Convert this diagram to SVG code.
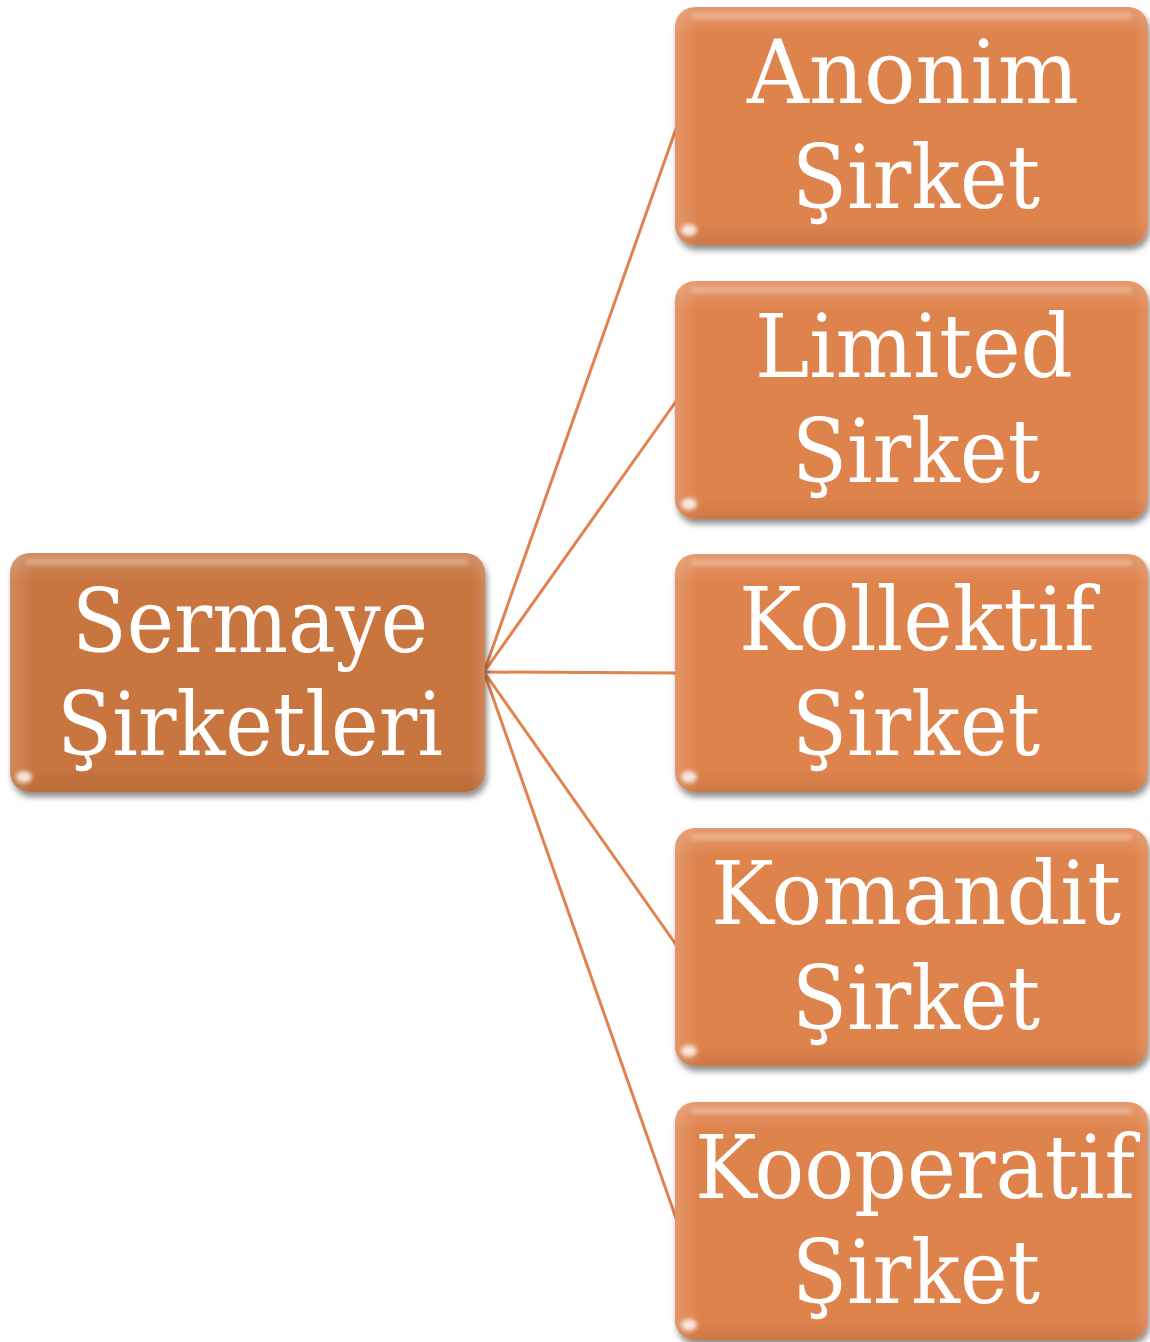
<svg xmlns="http://www.w3.org/2000/svg" width="1150" height="1342" viewBox="0 0 1150 1342">
  <defs>
    <filter id="shadow" x="-5%" y="-5%" width="112%" height="115%">
      <feGaussianBlur in="SourceAlpha" stdDeviation="3"/>
      <feOffset dx="2" dy="5" result="b"/>
      <feComponentTransfer><feFuncA type="linear" slope="0.45"/></feComponentTransfer>
      <feMerge><feMergeNode/><feMergeNode in="SourceGraphic"/></feMerge>
    </filter>
    <filter id="soft" x="-20%" y="-50%" width="140%" height="200%">
      <feGaussianBlur stdDeviation="2"/>
    </filter>
    <linearGradient id="gloss" x1="0" y1="0" x2="0" y2="1">
      <stop offset="0" stop-color="#ffffff" stop-opacity="0.18"/>
      <stop offset="0.12" stop-color="#ffffff" stop-opacity="0"/>
      <stop offset="0.9" stop-color="#000000" stop-opacity="0"/>
      <stop offset="1" stop-color="#000000" stop-opacity="0.08"/>
    </linearGradient>
    <linearGradient id="side" x1="0" y1="0" x2="1" y2="0">
      <stop offset="0" stop-color="#ffffff" stop-opacity="0.15"/>
      <stop offset="0.05" stop-color="#ffffff" stop-opacity="0"/>
      <stop offset="0.97" stop-color="#ffffff" stop-opacity="0"/>
      <stop offset="1" stop-color="#ffffff" stop-opacity="0.12"/>
    </linearGradient>
  </defs>
  <style>
    .root { fill: #C87441; }
    .child { fill: #DF834E; }
    .overlay { fill: url(#gloss); }
    .sideov { fill: url(#side); }
    .hl { fill: #ffffff; opacity: 0.3; filter: url(#soft); }
    .dot { fill: #ffffff; opacity: 0.8; filter: url(#soft); }
    .lbl { font-family: "DejaVu Serif", "Liberation Serif", serif; font-size: 88px; fill: #ffffff; text-anchor: middle; }
    .conn line { stroke: #E0834E; stroke-width: 3; fill: none; }
  </style>
  <rect width="1150" height="1342" fill="#ffffff"/>

  <g id="connectors" class="conn">
    <line x1="484" y1="672" x2="677" y2="126"/>
    <line x1="484" y1="672" x2="677" y2="400"/>
    <line x1="484" y1="672" x2="677" y2="673"/>
    <line x1="484" y1="672" x2="677" y2="946"/>
    <line x1="484" y1="672" x2="677" y2="1221"/>
  </g>

  <g id="node-root">
    <g filter="url(#shadow)">
      <rect class="root" x="10" y="553" width="475" height="239" rx="20"/>
    </g>
    <rect class="overlay" x="10" y="553" width="475" height="239" rx="20"/>
    <rect class="sideov" x="10" y="553" width="475" height="239" rx="20"/>
    <rect class="hl" x="26" y="559" width="443" height="6" rx="3"/>
    <ellipse class="dot" cx="24" cy="777" rx="8" ry="6"/>
    <text class="lbl" x="250" y="652" textLength="356" lengthAdjust="spacingAndGlyphs">Sermaye</text>
    <text class="lbl" x="250" y="755" textLength="386" lengthAdjust="spacingAndGlyphs">Şirketleri</text>
  </g>

  <g id="node-anonim">
    <g filter="url(#shadow)">
      <rect class="child" x="675" y="7" width="473" height="238" rx="20"/>
    </g>
    <rect class="overlay" x="675" y="7" width="473" height="238" rx="20"/>
    <rect class="sideov" x="675" y="7" width="473" height="238" rx="20"/>
    <rect class="hl" x="691" y="13" width="441" height="6" rx="3"/>
    <ellipse class="dot" cx="689" cy="230" rx="8" ry="6"/>
    <text class="lbl" x="913" y="103" textLength="332" lengthAdjust="spacingAndGlyphs">Anonim</text>
    <text class="lbl" x="916" y="208" textLength="248" lengthAdjust="spacingAndGlyphs">Şirket</text>
  </g>

  <g id="node-limited">
    <g filter="url(#shadow)">
      <rect class="child" x="675" y="281" width="473" height="238" rx="20"/>
    </g>
    <rect class="overlay" x="675" y="281" width="473" height="238" rx="20"/>
    <rect class="sideov" x="675" y="281" width="473" height="238" rx="20"/>
    <rect class="hl" x="691" y="287" width="441" height="6" rx="3"/>
    <ellipse class="dot" cx="689" cy="504" rx="8" ry="6"/>
    <text class="lbl" x="914" y="377" textLength="318" lengthAdjust="spacingAndGlyphs">Limited</text>
    <text class="lbl" x="916" y="482" textLength="248" lengthAdjust="spacingAndGlyphs">Şirket</text>
  </g>

  <g id="node-kollektif">
    <g filter="url(#shadow)">
      <rect class="child" x="675" y="554" width="473" height="238" rx="20"/>
    </g>
    <rect class="overlay" x="675" y="554" width="473" height="238" rx="20"/>
    <rect class="sideov" x="675" y="554" width="473" height="238" rx="20"/>
    <rect class="hl" x="691" y="560" width="441" height="6" rx="3"/>
    <ellipse class="dot" cx="689" cy="777" rx="8" ry="6"/>
    <text class="lbl" x="917" y="650" textLength="356" lengthAdjust="spacingAndGlyphs">Kollektif</text>
    <text class="lbl" x="916" y="755" textLength="248" lengthAdjust="spacingAndGlyphs">Şirket</text>
  </g>

  <g id="node-komandit">
    <g filter="url(#shadow)">
      <rect class="child" x="675" y="828" width="473" height="238" rx="20"/>
    </g>
    <rect class="overlay" x="675" y="828" width="473" height="238" rx="20"/>
    <rect class="sideov" x="675" y="828" width="473" height="238" rx="20"/>
    <rect class="hl" x="691" y="834" width="441" height="6" rx="3"/>
    <ellipse class="dot" cx="689" cy="1051" rx="8" ry="6"/>
    <text class="lbl" x="916" y="924" textLength="410" lengthAdjust="spacingAndGlyphs">Komandit</text>
    <text class="lbl" x="916" y="1029" textLength="248" lengthAdjust="spacingAndGlyphs">Şirket</text>
  </g>

  <g id="node-kooperatif">
    <g filter="url(#shadow)">
      <rect class="child" x="675" y="1102" width="473" height="238" rx="20"/>
    </g>
    <rect class="overlay" x="675" y="1102" width="473" height="238" rx="20"/>
    <rect class="sideov" x="675" y="1102" width="473" height="238" rx="20"/>
    <rect class="hl" x="691" y="1108" width="441" height="6" rx="3"/>
    <ellipse class="dot" cx="689" cy="1325" rx="8" ry="6"/>
    <text class="lbl" x="915" y="1198" textLength="440" lengthAdjust="spacingAndGlyphs">Kooperatif</text>
    <text class="lbl" x="916" y="1303" textLength="248" lengthAdjust="spacingAndGlyphs">Şirket</text>
  </g>
</svg>
